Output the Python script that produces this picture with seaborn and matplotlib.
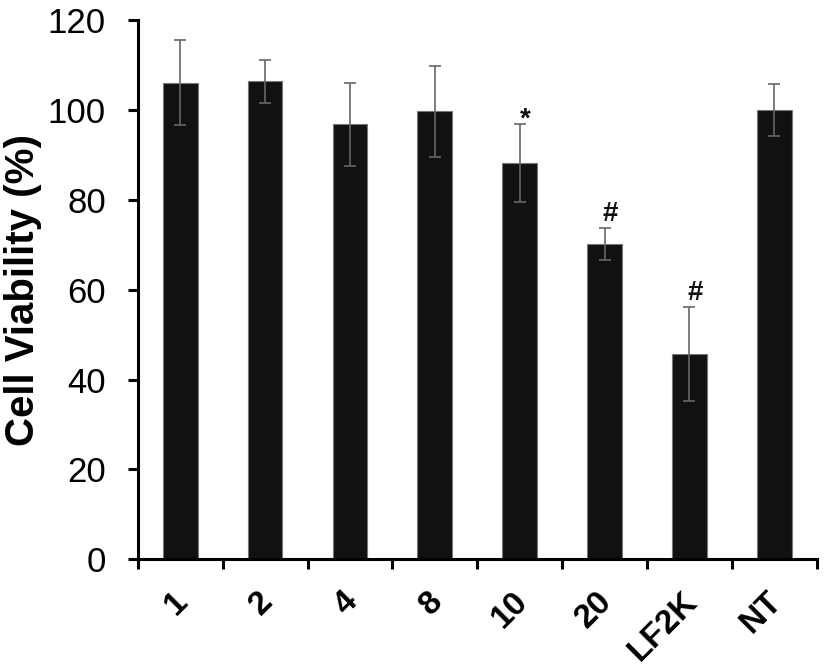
import numpy as np
import pandas as pd
import matplotlib
matplotlib.use("Agg")
import matplotlib.pyplot as plt
import matplotlib.transforms as mtransforms
import seaborn as sns

# data
groups = ["1", "2", "4", "8", "10", "20", "LF2K", "NT"]
viability = [106.1, 106.4, 96.8, 99.7, 88.2, 70.2, 45.7, 100.0]
sd = [9.5, 4.8, 9.2, 10.2, 8.7, 3.5, 10.5, 5.7]
marks = ["", "", "", "", "*", "#", "#", ""]

sns.set_style("ticks", {"axes.edgecolor": "black", "text.color": "black",
                        "xtick.color": "black", "ytick.color": "black",
                        "axes.labelcolor": "black"})
plt.rcParams["font.family"] = ["Liberation Sans", "DejaVu Sans"]

df = pd.DataFrame({"group": groups, "viability": viability})

fig = plt.figure(figsize=(8.25, 6.71), dpi=100)
ax = fig.add_axes([0.167, 0.1665, 0.823, 0.8035])

sns.barplot(data=df, x="group", y="viability", color="#111111", width=0.41,
            edgecolor="#777777", linewidth=0.8, saturation=1, ax=ax)
xpos = np.arange(len(groups))
ax.errorbar(xpos, viability, yerr=sd, fmt="none", ecolor="#666666",
            elinewidth=1.2, capsize=4.5, capthick=1.2, zorder=3)

for x, v, e, m in zip(xpos, viability, sd, marks):
    if m:
        off = -0.5 if m == "*" else 1.5
        ax.text(x + 0.07, v + e + off, m, ha="center", va="baseline",
                fontsize=20, fontweight="bold", color="#111111")

ax.set_ylim(0, 120)
ax.set_xlim(-0.5, len(groups) - 0.5)
ax.set_yticks(np.arange(0, 121, 20))
ax.tick_params(axis="y", labelsize=25, length=7, width=2.2, pad=16)
ax.set_ylabel("Cell Viability (%)", fontsize=29, fontweight="bold", labelpad=4)
ax.set_xlabel("")

ax.set_xticks(xpos)
ax.set_xticklabels(groups, rotation=45, ha="right", rotation_mode="anchor",
                   fontsize=24, fontweight="bold")
ax.tick_params(axis="x", which="major", length=0, pad=19)
ax.set_xticks(np.arange(-0.5, len(groups)), minor=True)
ax.tick_params(axis="x", which="minor", length=7, width=2.2, direction="out")
shift = mtransforms.ScaledTranslation(-8 / 100, 0, fig.dpi_scale_trans)
for lab in ax.get_xticklabels():
    lab.set_transform(lab.get_transform() + shift)

for s in ["top", "right"]:
    ax.spines[s].set_visible(False)
for s in ["left", "bottom"]:
    ax.spines[s].set_linewidth(2.2)

fig.savefig("out.png", dpi=100)
